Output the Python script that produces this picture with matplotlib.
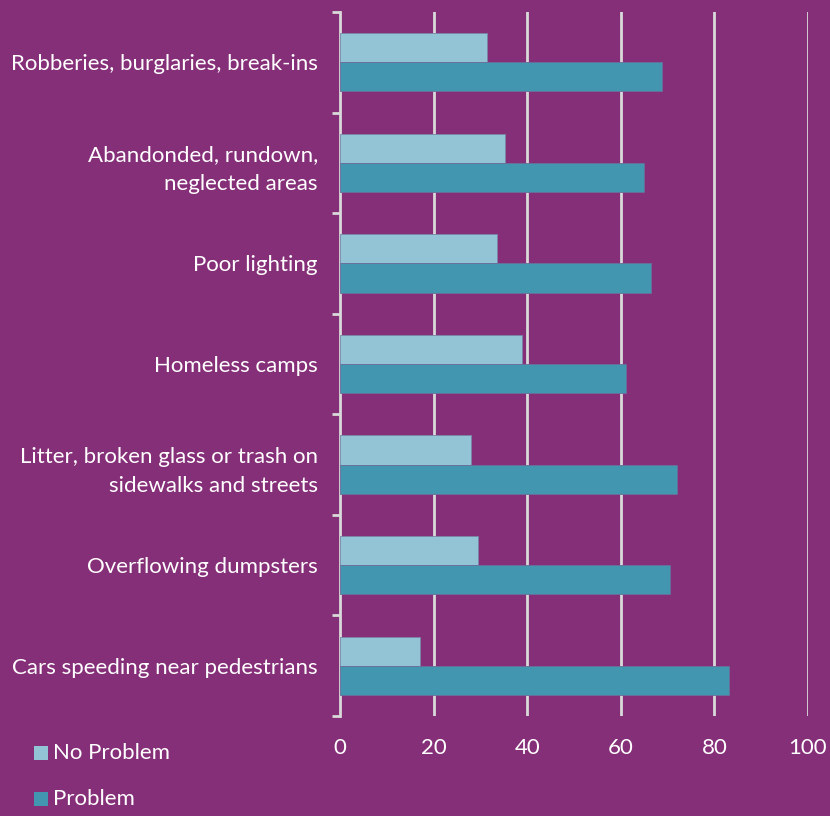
import matplotlib
matplotlib.use("Agg")
import matplotlib.pyplot as plt
import numpy as np
from matplotlib.patches import Rectangle

categories = ["Robberies, burglaries, break-ins",
              "Abandonded, rundown,\nneglected areas",
              "Poor lighting",
              "Homeless camps",
              "Litter, broken glass or trash on\nsidewalks and streets",
              "Overflowing dumpsters",
              "Cars speeding near pedestrians"]
no_problem = [31.4, 35.3, 33.5, 38.9, 28.0, 29.5, 17.1]
problem = [68.8, 65.0, 66.5, 61.1, 72.0, 70.5, 83.1]
series_names = ["No Problem", "Problem"]
xticks = [0, 20, 40, 60, 80, 100]

bg = "#862F79"
c_light = "#92C4D5"
c_dark = "#4296B0"
grid_c = "#D9D9D9"
txt = "#FFFFFF"

plt.rcParams['font.family'] = ['Lato', 'DejaVu Sans']
fs = 16

fig = plt.figure(figsize=(8.3, 8.16), dpi=100, facecolor=bg)
ax = fig.add_axes([340/830, 1-716/816, (808-340)/830, (716-12)/816])
ax.set_facecolor(bg)

n = len(categories)
y = np.arange(n)
h = 0.29
ax.barh(y - h/2, no_problem, height=h, color=c_light, edgecolor="#7A86A8", linewidth=0.6, zorder=3)
ax.barh(y + h/2, problem, height=h, color=c_dark, edgecolor="#6A6E9A", linewidth=0.6, zorder=3)

ax.set_xlim(0, 100)
ax.set_ylim(n - 0.5, -0.5)
ax.set_xticks(xticks)
ax.set_xticklabels([str(t) for t in xticks], color=txt, fontsize=fs)
ax.tick_params(axis='x', length=0, pad=16)
ax.set_yticks(y)
ax.set_yticklabels(categories, color=txt, fontsize=fs, linespacing=1.6)
ax.tick_params(axis='y', length=0, pad=16)
ax.set_yticks(np.arange(-0.5, n, 1), minor=True)
ax.tick_params(axis='y', which='minor', length=6, width=2, color=grid_c, direction='out')

for t in xticks[1:]:
    ax.axvline(t, color=grid_c, linewidth=2, zorder=1)
for s in ["top", "right", "bottom"]:
    ax.spines[s].set_visible(False)
ax.spines["left"].set_color(grid_c)
ax.spines["left"].set_linewidth(2)

# legend
for i, (name, col) in enumerate(zip(series_names, [c_light, c_dark])):
    yy = 753 + i * 46
    fig.patches.append(Rectangle((34/830, 1-(yy+7)/816), 14/830, 14/816,
                                 transform=fig.transFigure, facecolor=col, edgecolor='none'))
    fig.text(53/830, 1-yy/816, name, color=txt, fontsize=fs, va='center', ha='left')

fig.savefig("out.png", dpi=100, facecolor=bg)
